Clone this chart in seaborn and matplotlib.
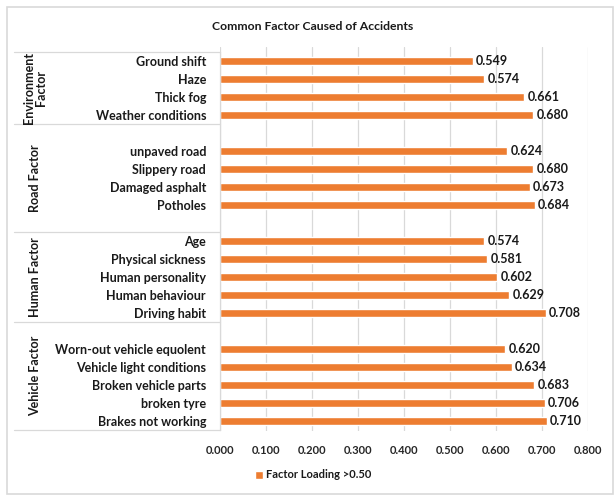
import matplotlib
matplotlib.use("Agg")
import matplotlib.pyplot as plt
import matplotlib.transforms as mtransforms
from matplotlib.patches import Rectangle
import seaborn as sns
import pandas as pd

# Factor loadings by group (top to bottom)
env_items = ["Ground shift", "Haze", "Thick fog", "Weather conditions"]
env_values = [0.549, 0.574, 0.661, 0.680]
road_items = ["unpaved road", "Slippery road", "Damaged asphalt", "Potholes"]
road_values = [0.624, 0.680, 0.673, 0.684]
human_items = ["Age", "Physical sickness", "Human personality", "Human behaviour", "Driving habit"]
human_values = [0.574, 0.581, 0.602, 0.629, 0.708]
vehicle_items = ["Worn-out vehicle equolent", "Vehicle light conditions",
                 "Broken vehicle parts", "broken tyre", "Brakes not working"]
vehicle_values = [0.620, 0.634, 0.683, 0.706, 0.710]

group_names = ["Environment\nFactor", "Road Factor", "Human Factor", "Vehicle Factor"]
x_ticks = [0.0, 0.1, 0.2, 0.3, 0.4, 0.5, 0.6, 0.7, 0.8]
title = "Common Factor Caused of Accidents"
series_name = "Factor Loading >0.50"

# Category slots, with blank spacer rows between groups
order = (env_items + [" "] + road_items + ["  "] + human_items + ["   "] + vehicle_items)
# Group boundaries in slot units
bounds = [-0.5, 3.5, 9.5, 14.5, 20.5]

df = pd.DataFrame({
    "item": env_items + road_items + human_items + vehicle_items,
    "value": env_values + road_values + human_values + vehicle_values,
})

sns.set_theme(style="white")
plt.rcParams["font.family"] = ["Lato", "DejaVu Sans"]

fig = plt.figure(figsize=(6.15, 4.95), dpi=100)
ax = fig.add_axes([220 / 615, 1 - 431 / 495, 368 / 615, 384 / 495])

orange = "#ED7D31"
sns.barplot(data=df, x="value", y="item", order=order, orient="h",
            color=orange, saturation=1, width=0.42, ax=ax, label=series_name)

ax.set_xlim(0, 0.8)
ax.set_ylim(20.56, -0.78)
ax.set_xticks(x_ticks)
ax.set_xticklabels([f"{t:.3f}" for t in x_ticks], fontsize=8, fontweight="bold",
                   color="#262626")
ax.tick_params(axis="x", length=0, pad=10)
ax.tick_params(axis="y", length=0, pad=10)
for lbl in ax.get_yticklabels():
    lbl.set_fontsize(9)
    lbl.set_fontweight("bold")
    lbl.set_color("#1a1a1a")
ax.set_xlabel("")
ax.set_ylabel("")

# Vertical gridlines
ax.grid(axis="x", color="#d9d9d9", linewidth=0.9)
ax.set_axisbelow(True)
for side in ["top", "right", "bottom"]:
    ax.spines[side].set_visible(False)
ax.spines["left"].set_color("#d9d9d9")
ax.spines["left"].set_linewidth(0.9)
ax.spines["left"].set_bounds(bounds[0], bounds[-1])

# Value labels
for cont in ax.containers:
    ax.bar_label(cont, fmt="%.3f", padding=2.5, fontsize=9, fontweight="bold",
                 color="#1a1a1a")

# Multi-level category frame and group labels
trans = mtransforms.blended_transform_factory(ax.transAxes, ax.transData)
x_left = (14 - 220) / 368
for b in bounds:
    ax.plot([x_left, 0], [b, b], color="#d9d9d9", linewidth=0.9,
            transform=trans, clip_on=False)
x_grp = (35 - 220) / 368
for name, lo, hi in zip(group_names, bounds[:-1], bounds[1:]):
    ax.text(x_grp, (lo + hi) / 2, name, transform=trans, rotation=90,
            ha="center", va="center", fontsize=9, fontweight="bold",
            color="#1a1a1a", linespacing=1.05)

fig.text(313 / 615, 1 - 27 / 495, title, ha="center", va="center",
         fontsize=8.8, fontweight="bold", color="#1a1a1a")

leg = ax.legend(loc="center left", bbox_to_anchor=(245 / 615, 1 - 475 / 495),
                bbox_transform=fig.transFigure, frameon=False, fontsize=8,
                handlelength=0.7, handleheight=0.7, handletextpad=0.3)
for t in leg.get_texts():
    t.set_fontweight("bold")
    t.set_color("#1a1a1a")

# Outer chart border
fig.patches.append(Rectangle((7 / 615, 1 / 495), 606 / 615, 487 / 495,
                             transform=fig.transFigure, fill=False,
                             edgecolor="#d9d9d9", linewidth=1.2))

fig.savefig("out.png", dpi=100, facecolor="white")
